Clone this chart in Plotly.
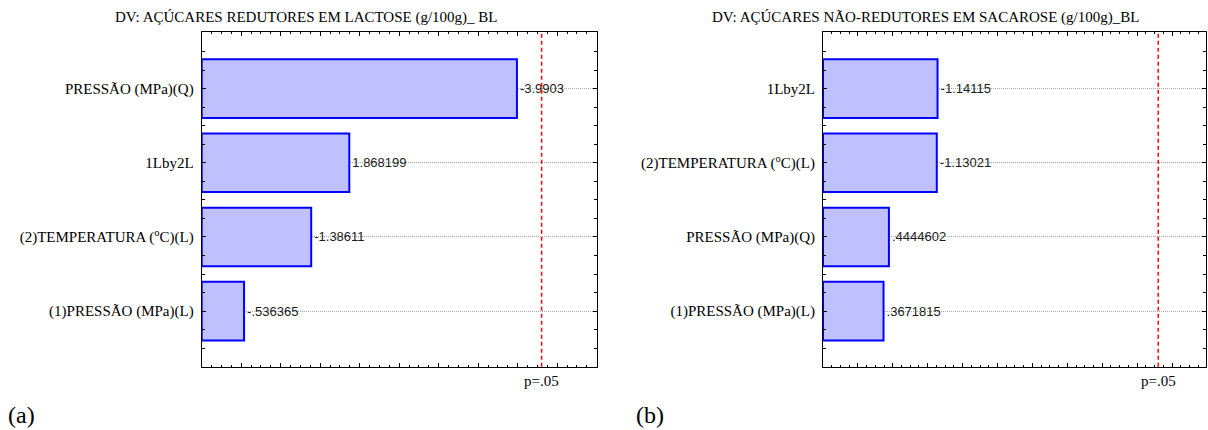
import plotly.graph_objects as go

W, H = 1208, 430

# ---------------- data ----------------
TITLE_A = "DV: AÇÚCARES REDUTORES EM LACTOSE (g/100g)_ BL"
FACTORS_A = ["PRESSÃO (MPa)(Q)", "1Lby2L", "(2)TEMPERATURA (<sup>o</sup>C)(L)", "(1)PRESSÃO (MPa)(L)"]
EFFECTS_A = [-3.9903, 1.868199, -1.38611, -0.536365]
XMIN_A, XMAX_A = 0.0, 5.0

TITLE_B = "DV: AÇÚCARES NÃO-REDUTORES EM SACAROSE (g/100g)_BL"
FACTORS_B = ["1Lby2L", "(2)TEMPERATURA (<sup>o</sup>C)(L)", "PRESSÃO (MPa)(Q)", "(1)PRESSÃO (MPa)(L)"]
EFFECTS_B = [-1.14115, -1.13021, 0.4444602, 0.3671815]
XMIN_B, XMAX_B = -0.5, 4.98

T_CRIT = 4.303
P_LABEL = "p=.05"
PANEL_TAGS = ["(a)", "(b)"]

# ---------------- style ----------------
SERIF = "Liberation Serif, Times New Roman, serif"
SANS = "Liberation Sans, Arial, sans-serif"
FILL = "#c0c0ff"
EDGE = "#0000ff"


def fmt(v):
    s = f"{v:.7g}"
    if s.startswith("-0."):
        s = "-" + s[2:]
    elif s.startswith("0."):
        s = s[1:]
    return s


def px_x(p):
    return p / W


def px_y(p):
    return (H - p) / H


fig = go.Figure()

panels = [
    (FACTORS_A, EFFECTS_A, XMIN_A, XMAX_A, "x", "y"),
    (FACTORS_B, EFFECTS_B, XMIN_B, XMAX_B, "x2", "y2"),
]
for factors, effects, xmin, xmax, xa, ya in panels:
    pos = list(range(len(factors)))
    fig.add_trace(go.Bar(
        orientation="h",
        y=pos,
        x=[abs(v) - xmin for v in effects],
        base=xmin,
        width=0.79,
        marker=dict(color=FILL, line=dict(color=EDGE, width=2)),
        text=[fmt(v) for v in effects],
        textposition="outside",
        constraintext="none",
        cliponaxis=False,
        textfont=dict(family=SANS, size=13, color="#1a1a1a"),
        xaxis=xa, yaxis=ya,
        showlegend=False,
        hoverinfo="skip",
    ))

y_dom = [px_y(366.7), px_y(32.3)]
x_dom_a = [px_x(201.7), px_x(596.7)]
x_dom_b = [px_x(823.0), px_x(1205.5)]


def xaxis_cfg(dom, rng, anchor):
    return dict(
        domain=dom, range=rng, anchor=anchor,
        showgrid=False, zeroline=False, showticklabels=False,
        showline=True, linecolor="black", linewidth=1, mirror="ticks",
        ticks="inside", tickmode="linear", tick0=0, dtick=0.5, ticklen=4,
        tickcolor="black", tickwidth=1,
        minor=dict(ticks="inside", tick0=0, dtick=0.125, ticklen=2,
                   tickcolor="black", tickwidth=1, showgrid=False),
        fixedrange=True,
    )


def yaxis_cfg(anchor, factors):
    n = len(factors)
    return dict(
        domain=y_dom, range=[n - 0.25, -0.76], anchor=anchor,
        tickmode="array", tickvals=list(range(n)), ticktext=factors,
        showgrid=True, gridcolor="#a8a8a8", griddash="1px,1px", gridwidth=1,
        zeroline=False,
        showline=True, linecolor="black", linewidth=1, mirror="ticks",
        ticks="inside", ticklen=4, tickcolor="black", tickwidth=1,
        minor=dict(ticks="inside", tickmode="array",
                   tickvals=[k * 0.25 - 0.75 for k in range(4 * n + 3)],
                   ticklen=3, tickcolor="black", tickwidth=1, showgrid=False),
        tickfont=dict(family=SERIF, size=15, color="black"),
        ticklabelstandoff=4,
        fixedrange=True,
    )


fig.update_layout(
    width=W, height=H,
    margin=dict(l=0, r=0, t=0, b=0),
    paper_bgcolor="white", plot_bgcolor="white",
    bargap=0.2,
    xaxis=xaxis_cfg(x_dom_a, [XMIN_A, XMAX_A], "y"),
    yaxis=yaxis_cfg("x", FACTORS_A),
    xaxis2=xaxis_cfg(x_dom_b, [XMIN_B, XMAX_B], "y2"),
    yaxis2=yaxis_cfg("x2", FACTORS_B),
)

# critical value lines and labels
for xref, yref in [("x", "y"), ("x2", "y2")]:
    fig.add_shape(type="line", xref=xref, yref=yref + " domain",
                  x0=T_CRIT, x1=T_CRIT, y0=0, y1=1,
                  line=dict(color="#ff0000", width=1.5, dash="4px,3px"))
    fig.add_annotation(xref=xref, yref="paper", x=T_CRIT, y=px_y(381),
                       text=P_LABEL, showarrow=False, xanchor="center", yanchor="middle",
                       font=dict(family=SERIF, size=15, color="black"))

# titles
for title, cx in [(TITLE_A, 306.5), (TITLE_B, 925.0)]:
    fig.add_annotation(xref="paper", yref="paper", x=px_x(cx), y=px_y(17.5),
                       text=title, showarrow=False, xanchor="center", yanchor="middle",
                       font=dict(family=SERIF, size=15, color="black"))

# panel tags
for tag, cx in zip(PANEL_TAGS, [21.0, 650.0]):
    fig.add_annotation(xref="paper", yref="paper", x=px_x(cx), y=px_y(415),
                       text=tag, showarrow=False, xanchor="center", yanchor="middle",
                       font=dict(family=SERIF, size=24, color="black"))

fig.write_html("out.html")
